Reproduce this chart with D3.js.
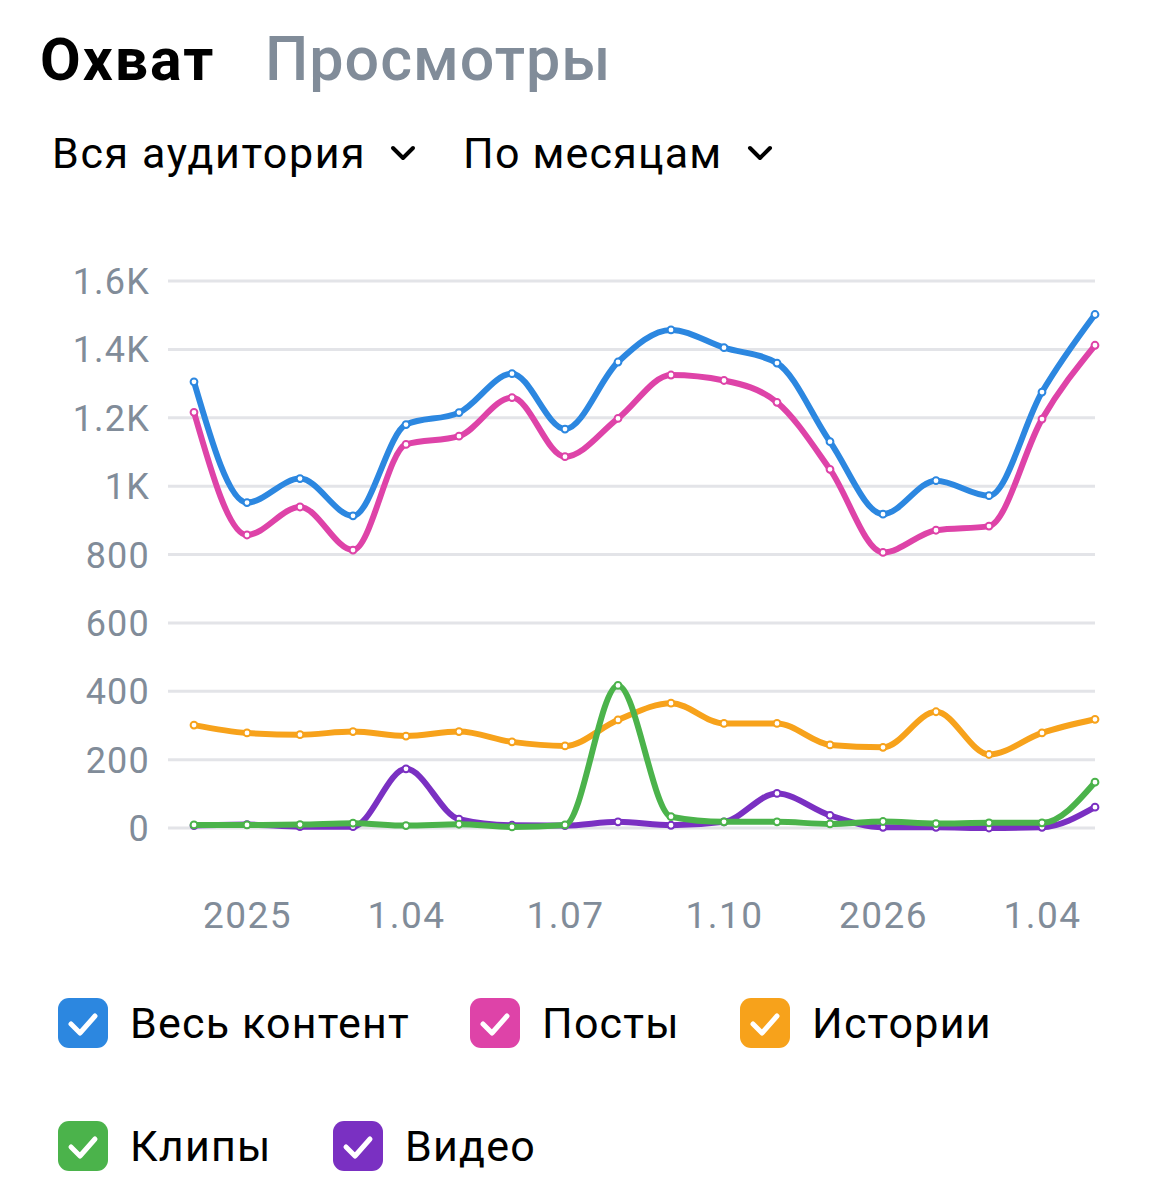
<!DOCTYPE html>
<html><head><meta charset="utf-8">
<script src="https://cdn.jsdelivr.net/npm/d3@7"></script>
<style>
body{margin:0;background:#fff;}
svg{display:block;font-family:Roboto, "Noto Sans", sans-serif;}
</style></head>
<body>
<svg id="c" width="1168" height="1200"></svg>
<script>
const months = ["2024-12","2025-01","2025-02","2025-03","2025-04","2025-05","2025-06","2025-07","2025-08","2025-09","2025-10","2025-11","2025-12","2026-01","2026-02","2026-03","2026-04","2026-05"];
const allContent = [1305,952,1022,913,1180,1215,1329,1167,1363,1457,1405,1360,1130,918,1016,972,1275,1502];
const posts      = [1216,857,939,813,1122,1146,1259,1086,1198,1325,1309,1245,1049,806,871,883,1196,1412];
const stories    = [301,278,273,282,269,282,252,240,316,365,306,306,243,236,340,215,278,318];
const clips      = [9,9,10,14,7,11,3,9,417,33,18,18,12,19,13,15,15,134];
const video      = [7,10,4,4,173,26,8,7,18,8,18,101,37,2,2,0,2,61];
const seriesNames = ["Весь контент","Посты","Истории","Клипы","Видео"];
const seriesColors = ["#2c87e0","#de43a8","#f7a21b","#4bb34b","#7a30c2"];
const yTicks = [0,200,400,600,800,1000,1200,1400,1600];
const yTickLabels = ["0","200","400","600","800","1K","1.2K","1.4K","1.6K"];
const xTickIdx = [1,4,7,10,13,16];
const xTickLabels = ["2025","1.04","1.07","1.10","2026","1.04"];

const svg = d3.select("#c");
const gray = "#818c99";

// header
svg.append("text").attr("x",40).attr("y",80).attr("font-size",59).attr("font-weight",700).attr("letter-spacing",2).attr("fill","#000").text("Охват");
svg.append("text").attr("x",265).attr("y",80).attr("font-size",61).attr("font-weight",500).attr("letter-spacing",1).attr("fill",gray).text("Просмотры");
svg.append("text").attr("x",52).attr("y",168).attr("font-size",43).attr("letter-spacing",1.6).attr("fill","#000").text("Вся аудитория");
svg.append("text").attr("x",463).attr("y",168).attr("font-size",43).attr("letter-spacing",1.2).attr("fill","#000").text("По месяцам");
function chevron(cx,cy){
  svg.append("path").attr("d",`M${cx-10},${cy-5} L${cx},${cy+5} L${cx+10},${cy-5}`)
    .attr("fill","none").attr("stroke","#000").attr("stroke-width",4).attr("stroke-linecap","round").attr("stroke-linejoin","round");
}
chevron(403,153); chevron(760,153);

// scales
const x = d3.scalePoint().domain(months).range([194,1095]);
const y = d3.scaleLinear().domain([0,1600]).range([828,281]);

// grid
const grid = svg.append("g");
grid.selectAll("line").data(yTicks).join("line")
  .attr("x1",168).attr("x2",1095).attr("y1",d=>y(d)).attr("y2",d=>y(d))
  .attr("stroke","#e3e4e8").attr("stroke-width",3);

// y axis
const yAxis = d3.axisLeft(y).tickValues(yTicks).tickFormat((d,i)=>yTickLabels[i]).tickSize(0).tickPadding(0);
const gy = svg.append("g").attr("transform","translate(150,0)").call(yAxis);
gy.select(".domain").remove();
gy.selectAll("text").attr("font-size",36).attr("letter-spacing",1.2).attr("fill",gray).attr("font-family","Roboto, sans-serif").attr("dy","0.35em");

// x axis
const xAxis = d3.axisBottom(x).tickValues(xTickIdx.map(i=>months[i])).tickFormat(d=>xTickLabels[xTickIdx.indexOf(months.indexOf(d))]).tickSize(0).tickPadding(0);
const gx = svg.append("g").attr("transform","translate(0,915)").call(xAxis);
gx.select(".domain").remove();
gx.selectAll("text").attr("font-size",37).attr("letter-spacing",1.5).attr("fill",gray).attr("font-family","Roboto, sans-serif").attr("dy","0.35em");

// lines
const data = [allContent,posts,stories,video,clips];
const colorFor = [0,1,2,4,3];
const line = d3.line().x((d,i)=>x(months[i])).y(d=>y(d)).curve(d3.curveMonotoneX);
data.forEach((arr,k)=>{
  const c = seriesColors[colorFor[k]];
  const g = svg.append("g");
  g.append("path").attr("d",line(arr)).attr("fill","none").attr("stroke",c).attr("stroke-width",6).attr("stroke-linejoin","round").attr("stroke-linecap","round");
  g.selectAll("circle").data(arr).join("circle")
    .attr("cx",(d,i)=>x(months[i])).attr("cy",d=>y(d)).attr("r",3.4)
    .attr("fill","#fff").attr("stroke",c).attr("stroke-width",2);
});

// legend
const legendPos = [[58,1023],[470,1023],[740,1023],[58,1146],[333,1146]];
seriesNames.forEach((n,i)=>{
  const [lx,ly] = legendPos[i];
  const g = svg.append("g").attr("transform",`translate(${lx},${ly})`);
  g.append("rect").attr("x",0).attr("y",-25).attr("width",50).attr("height",50).attr("rx",11).attr("fill",seriesColors[i]);
  g.append("path").attr("d","M13,1 L22,10 L37,-7").attr("fill","none").attr("stroke","#fff").attr("stroke-width",5).attr("stroke-linecap","round").attr("stroke-linejoin","round");
  g.append("text").attr("x",72).attr("y",0).attr("dy","0.35em").attr("font-size",43).attr("letter-spacing",1.2).attr("fill","#000").text(n);
});
</script>
</body></html>
